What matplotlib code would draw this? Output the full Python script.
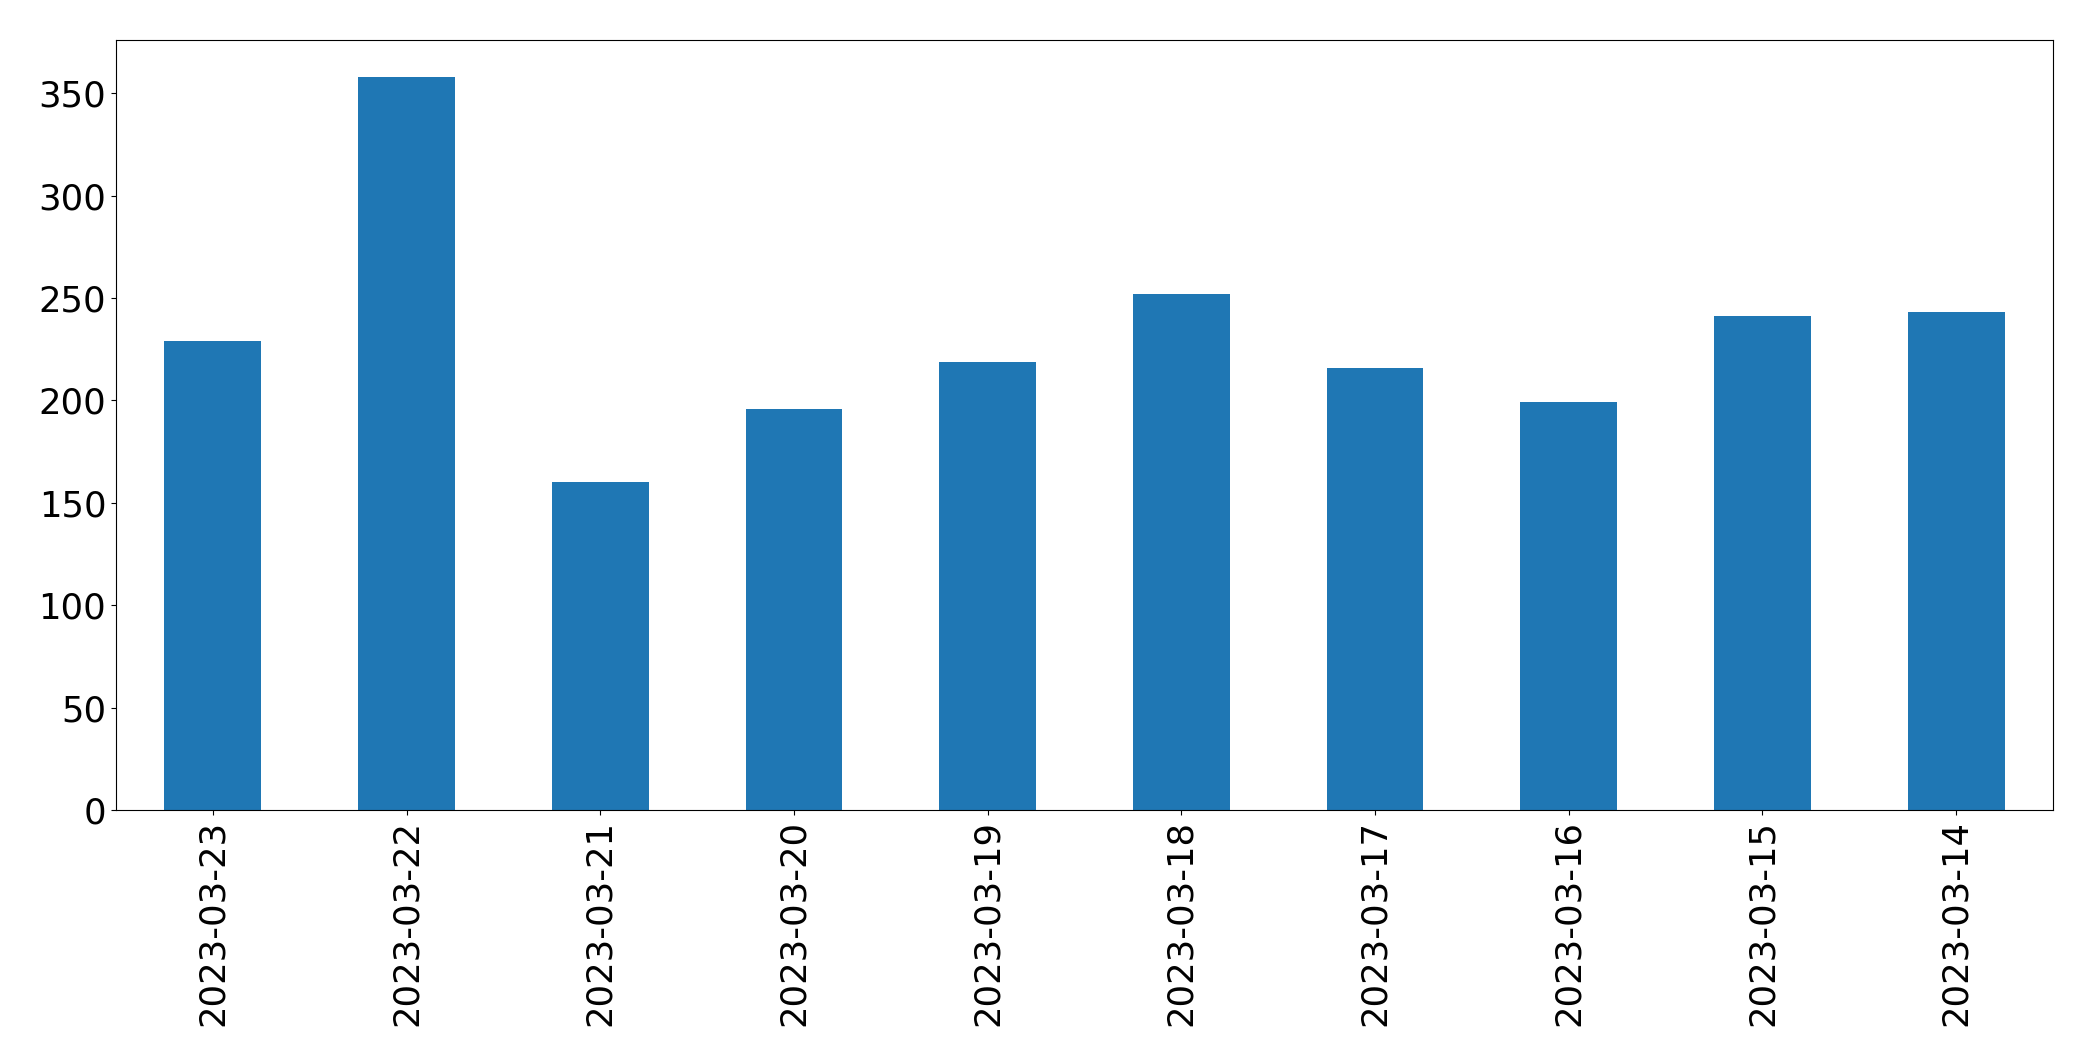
import matplotlib
matplotlib.use("Agg")
import matplotlib.pyplot as plt

dates = ["2023-03-23", "2023-03-22", "2023-03-21", "2023-03-20", "2023-03-19",
         "2023-03-18", "2023-03-17", "2023-03-16", "2023-03-15", "2023-03-14"]
counts = [229, 358, 160, 196, 219, 252, 216, 199, 241, 243]
yticks = [0, 50, 100, 150, 200, 250, 300, 350]

fig = plt.figure(figsize=(20.93, 10.61), dpi=100)
ax = fig.add_axes([116 / 2093, 1 - 810 / 1061, (2053 - 116) / 2093, (810 - 40) / 1061])

x = list(range(len(dates)))
ax.bar(x, counts, width=0.5, color="#1f77b4")
ax.set_xlim(-0.5, len(dates) - 0.5)
ax.set_ylim(0, 376)
ax.set_xticks(x)
ax.set_xticklabels(dates, rotation=90, fontsize=25.5)
ax.set_yticks(yticks)
ax.tick_params(axis="y", labelsize=25.5)

fig.savefig("out.png", dpi=100)
